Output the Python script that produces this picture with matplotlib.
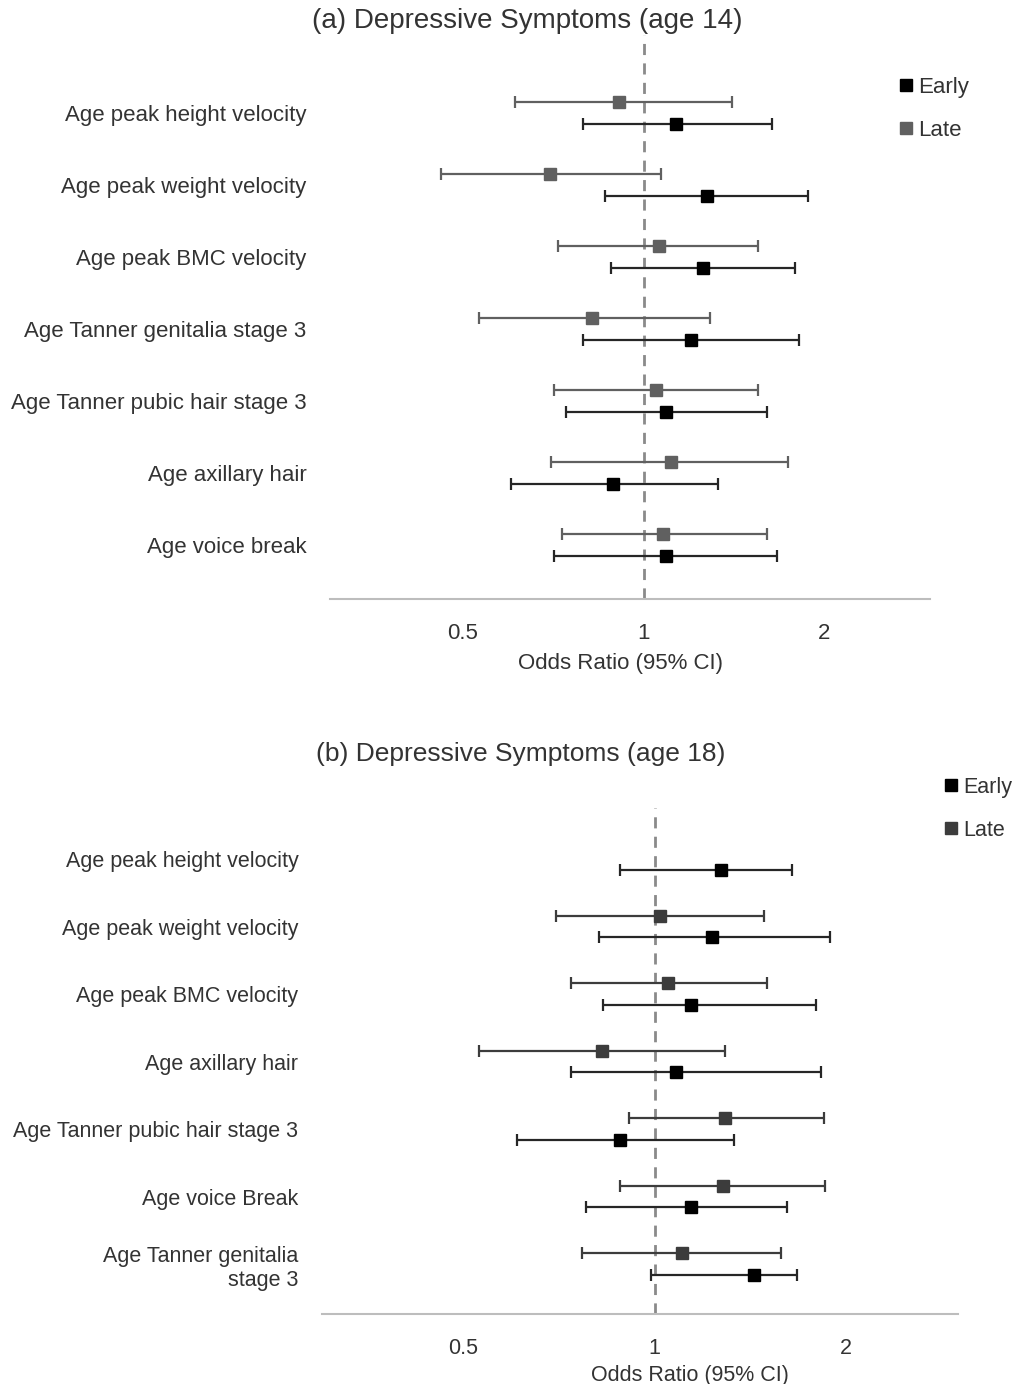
import numpy as np
import matplotlib
matplotlib.use('Agg')
import matplotlib.pyplot as plt
from matplotlib.lines import Line2D

plt.rcParams['font.family'] = ['Liberation Sans', 'DejaVu Sans']

TEXT = '#333333'

# ── Panel (a): depressive symptoms at age 14 ────────────────────────────────
labels_a = ['Age peak height velocity', 'Age peak weight velocity',
            'Age peak BMC velocity', 'Age Tanner genitalia stage 3',
            'Age Tanner pubic hair stage 3', 'Age axillary hair',
            'Age voice break']
late_a    = [0.909, 0.698, 1.059, 0.820, 1.047, 1.109, 1.075]
late_lo_a = [0.610, 0.459, 0.719, 0.532, 0.708, 0.700, 0.730]
late_hi_a = [1.406, 1.067, 1.553, 1.288, 1.553, 1.743, 1.608]
early_a    = [1.130, 1.273, 1.258, 1.197, 1.088, 0.888, 1.088]
early_lo_a = [0.792, 0.861, 0.881, 0.792, 0.742, 0.601, 0.708]
early_hi_a = [1.639, 1.881, 1.790, 1.818, 1.608, 1.328, 1.670]

# ── Panel (b): depressive symptoms at age 18 ────────────────────────────────
labels_b = ['Age peak height velocity', 'Age peak weight velocity',
            'Age peak BMC velocity', 'Age axillary hair',
            'Age Tanner pubic hair stage 3', 'Age voice Break',
            'Age Tanner genitalia\nstage 3']
late_b    = [np.nan, 1.018, 1.048, 0.828, 1.289, 1.280, 1.103]
late_lo_b = [np.nan, 0.701, 0.740, 0.530, 0.910, 0.881, 0.770]
late_hi_b = [np.nan, 1.485, 1.501, 1.289, 1.847, 1.853, 1.580]
early_b    = [1.271, 1.230, 1.139, 1.079, 0.881, 1.139, 1.432]
early_lo_b = [0.881, 0.819, 0.831, 0.740, 0.608, 0.779, 0.986]
early_hi_b = [1.644, 1.887, 1.794, 1.826, 1.332, 1.615, 1.677]

xticks = [0.5, 1, 2]
xtick_labels = ['0.5', '1', '2']


def forest(ax, labels, late, late_lo, late_hi, early, early_lo, early_hi,
           late_col, ylim, off, fs, label_xy):
    y = np.arange(len(labels))
    late = np.array(late); early = np.array(early)
    late_err = [late - np.array(late_lo), np.array(late_hi) - late]
    early_err = [early - np.array(early_lo), np.array(early_hi) - early]

    ax.axvline(1, color='#8a8a8a', linestyle=(0, (4, 3)), linewidth=2, zorder=1)
    ax.errorbar(late, y - off, xerr=late_err, fmt='s', color=late_col,
                ecolor=late_col, elinewidth=1.6, capsize=4, capthick=1.6,
                markersize=9, zorder=3)
    ax.errorbar(early, y + off, xerr=early_err, fmt='s', color='black',
                ecolor='#262626', elinewidth=1.6, capsize=4, capthick=1.6,
                markersize=9, zorder=3)

    ax.set_xscale('log')
    ax.set_xlim(0.3, 3.0)
    ax.set_ylim(*ylim)
    ax.set_xticks(xticks)
    ax.set_xticklabels(xtick_labels)
    ax.xaxis.set_minor_locator(matplotlib.ticker.NullLocator())
    ax.set_yticks(y)
    ax.set_yticklabels(labels, ha='right')
    ax.tick_params(axis='both', length=0, labelsize=fs, colors=TEXT)
    ax.tick_params(axis='x', pad=17)
    ax.tick_params(axis='y', pad=17)
    ax.set_xlabel('Odds Ratio (95% CI)', fontsize=fs, color=TEXT, va='center')
    ax.xaxis.set_label_coords(*label_xy)
    for side in ['top', 'left', 'right']:
        ax.spines[side].set_visible(False)
    ax.spines['bottom'].set_color('#bdbdbd')
    ax.spines['bottom'].set_linewidth(1.5)


fig = plt.figure(figsize=(10.14, 13.84), dpi=100)

ax_a = fig.add_axes([0.3254, 0.5672, 0.5917, 0.4075])
forest(ax_a, labels_a, late_a, late_lo_a, late_hi_a,
       early_a, early_lo_a, early_hi_a, '#606060', (6.75, -1.083), 0.153, 16,
       (0.485, -0.1135))
fig.text(527 / 1014, 1 - 21 / 1384, '(a) Depressive Symptoms (age 14)',
         ha='center', va='center', fontsize=20, color=TEXT)

ax_b = fig.add_axes([0.3176, 0.0506, 0.6272, 0.3656])
forest(ax_b, labels_b, late_b, late_lo_b, late_hi_b,
       early_b, early_lo_b, early_hi_b, '#3c3c3c', (6.74, -0.756), 0.156, 15.5,
       (0.579, -0.1225))
fig.text(521 / 1014, 1 - 754 / 1384, '(b) Depressive Symptoms (age 18)',
         ha='center', va='center', fontsize=19, color=TEXT)


def legend(late_col, x, y, fs):
    handles = [Line2D([], [], marker='s', color='black', linestyle='none',
                      markersize=8),
               Line2D([], [], marker='s', color=late_col, linestyle='none',
                      markersize=8)]
    fig.legend(handles, ['Early', 'Late'], loc='upper left',
               bbox_to_anchor=(x, y), frameon=False, fontsize=fs,
               handlelength=0.5, handletextpad=0.3, labelspacing=1.0,
               borderpad=0, borderaxespad=0, labelcolor=TEXT)


legend('#606060', 900 / 1014, 1 - 77 / 1384, 16)
legend('#3c3c3c', 946 / 1014, 1 - 777 / 1384, 15.5)

fig.savefig('out.png', dpi=100, facecolor='white')
